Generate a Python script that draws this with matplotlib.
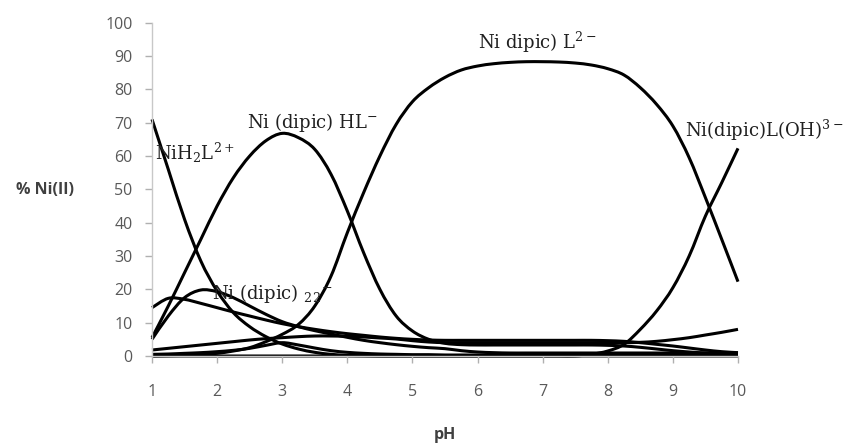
import matplotlib.pyplot as plt
from matplotlib.path import Path
from matplotlib.patches import PathPatch

# pH grid, step 0.25
ph = [1.0, 1.25, 1.5, 1.75, 2.0, 2.25, 2.5, 2.75, 3.0, 3.25, 3.5, 3.75,
      4.0, 4.25, 4.5, 4.75, 5.0, 5.25, 5.5, 5.75, 6.0, 6.25, 6.5, 6.75,
      7.0, 7.25, 7.5, 7.75, 8.0, 8.25, 8.5, 8.75, 9.0, 9.25, 9.5, 9.75, 10.0]

# % Ni(II)
nih2l = [71, 56, 41, 28.5, 19.5, 13, 8.8, 5.8, 3.6, 2.1, 1.1, 0.5,
         0.2, 0.1, 0, 0, 0, 0, 0, 0, 0, 0, 0, 0,
         0, 0, 0, 0, 0, 0, 0, 0, 0, 0, 0, 0, 0]
hl = [5.5, 15, 25, 35, 45, 53.5, 60, 64.6, 66.8, 65.5, 62, 54.5,
      43.5, 31, 20, 12, 7.5, 5, 3.8, 3.4, 3.3, 3.3, 3.3, 3.3,
      3.3, 3.3, 3.3, 3.3, 3.2, 3.0, 2.6, 2.1, 1.6, 1.2, 0.9, 0.7, 0.6]
l2 = [0, 0.1, 0.2, 0.4, 0.8, 1.5, 2.5, 4.3, 6.5, 9.5, 15, 24,
      37, 49, 60, 69.5, 76.3, 80.5, 83.6, 85.8, 87, 87.7, 88.1, 88.3,
      88.3, 88.2, 87.9, 87.3, 86.2, 84.3, 80.5, 75.5, 69, 59.5, 47.5, 35, 22.3]
loh = [0, 0, 0, 0, 0, 0, 0, 0, 0, 0, 0, 0,
       0, 0, 0, 0, 0, 0, 0, 0, 0, 0, 0, 0,
       0, 0, 0, 0.5, 1.5, 3.5, 8, 13.5, 20.5, 30, 42, 52, 62.3]
dipic2 = [5, 12, 17.5, 19.8, 19.3, 17.5, 15, 12.5, 10.3, 8.8, 7.6, 6.6,
          5.6, 4.7, 4.0, 3.4, 2.9, 2.5, 2.2, 1.6, 1.2, 1.0, 0.9, 0.9,
          0.9, 0.9, 0.9, 0.9, 0.9, 0.9, 0.9, 0.9, 0.9, 0.9, 0.9, 0.9, 0.9]
sp_f = [14.5, 17.3, 17, 15.8, 14.5, 13.2, 12, 10.8, 9.7, 8.8, 8.0, 7.3,
        6.7, 6.2, 5.7, 5.3, 5.0, 4.8, 4.7, 4.7, 4.7, 4.7, 4.7, 4.7,
        4.7, 4.7, 4.7, 4.7, 4.6, 4.4, 4.0, 3.5, 3.0, 2.4, 1.8, 1.3, 1.0]
sp_g = [1.8, 2.3, 2.8, 3.3, 3.8, 4.3, 4.8, 5.2, 5.5, 5.8, 6.0, 6.0,
        5.9, 5.7, 5.4, 5.1, 4.6, 4.2, 4.0, 4.0, 4.0, 4.0, 4.0, 4.0,
        4.0, 4.0, 4.0, 4.0, 4.0, 4.0, 4.1, 4.4, 4.9, 5.5, 6.3, 7.1, 8.0]
sp_h = [0.5, 0.6, 0.8, 1.0, 1.3, 1.7, 2.3, 3.2, 4.0, 3.3, 2.4, 1.6,
        1.1, 0.8, 0.6, 0.5, 0.4, 0.4, 0.3, 0.3, 0.3, 0.3, 0.3, 0.3,
        0.3, 0.3, 0.3, 0.3, 0.3, 0.3, 0.3, 0.3, 0.3, 0.2, 0.2, 0.2, 0.2]

series = [nih2l, hl, l2, loh, dipic2, sp_f, sp_g, sp_h]

xticks = [1, 2, 3, 4, 5, 6, 7, 8, 9, 10]
yticks = [0, 10, 20, 30, 40, 50, 60, 70, 80, 90, 100]


def smooth_path(xs, ys):
    # Excel-like smoothed line: Catmull-Rom segments as cubic Beziers
    pts = list(zip(xs, ys))
    n = len(pts)
    verts = [pts[0]]
    codes = [Path.MOVETO]
    for i in range(n - 1):
        p0 = pts[max(i - 1, 0)]
        p1 = pts[i]
        p2 = pts[i + 1]
        p3 = pts[min(i + 2, n - 1)]
        c1 = (p1[0] + (p2[0] - p0[0]) / 6, p1[1] + (p2[1] - p0[1]) / 6)
        c2 = (p2[0] - (p3[0] - p1[0]) / 6, p2[1] - (p3[1] - p1[1]) / 6)
        verts += [c1, c2, p2]
        codes += [Path.CURVE4] * 3
    return Path(verts, codes)


plt.rcParams['mathtext.fontset'] = 'dejavuserif'

fig = plt.figure(figsize=(8.6, 4.44), dpi=100)
ax = fig.add_axes([152/860, 1 - 356/444, (738 - 152)/860, (356 - 22.7)/444])

for s in series:
    patch = PathPatch(smooth_path(ph, s), facecolor='none', edgecolor='black',
                      lw=2.2, clip_on=False, capstyle='butt')
    ax.add_patch(patch)

ax.set_xlim(1, 10)
ax.set_ylim(0, 100)
ax.set_xticks(xticks)
ax.set_yticks(yticks)
for side in ['top', 'right']:
    ax.spines[side].set_visible(False)
for side in ['left', 'bottom']:
    ax.spines[side].set_color('#c8c8c8')
    ax.spines[side].set_linewidth(1.0)
ax.tick_params(axis='both', colors='#b0b0b0', length=5, width=1.0,
               labelcolor='#595959', labelsize=11.5)
ax.tick_params(axis='x', pad=15)
ax.tick_params(axis='y', pad=9)
for lab in ax.get_xticklabels() + ax.get_yticklabels():
    lab.set_family('Open Sans')

fig.text(445/860, 1 - 435/444, 'pH', ha='center', va='center',
         fontsize=11.5, fontweight='bold', color='#404040', family='Open Sans')
fig.text(45/860, 1 - 190/444, '% Ni(II)', ha='center', va='center',
         fontsize=11.5, fontweight='bold', color='#404040', family='Open Sans')

lab_kw = dict(fontsize=13, color='#202020', family='DejaVu Serif',
              va='center', ha='left', clip_on=False)
ax.text(1.05, 61, r'NiH$_2$L$^{2+}$', **lab_kw)
ax.text(2.46, 70.2, r'Ni (dipic) HL$^{-}$', **lab_kw)
ax.text(6.0, 94, r'Ni dipic) L$^{2-}$', **lab_kw)
ax.text(9.19, 67.8, r'Ni(dipic)L(OH)$^{3-}$', **lab_kw)
ax.text(1.92, 18.9, r'Ni (dipic) $_{2}$$_{2}$$^{-}$', **lab_kw)

fig.savefig('out.png', dpi=100)
